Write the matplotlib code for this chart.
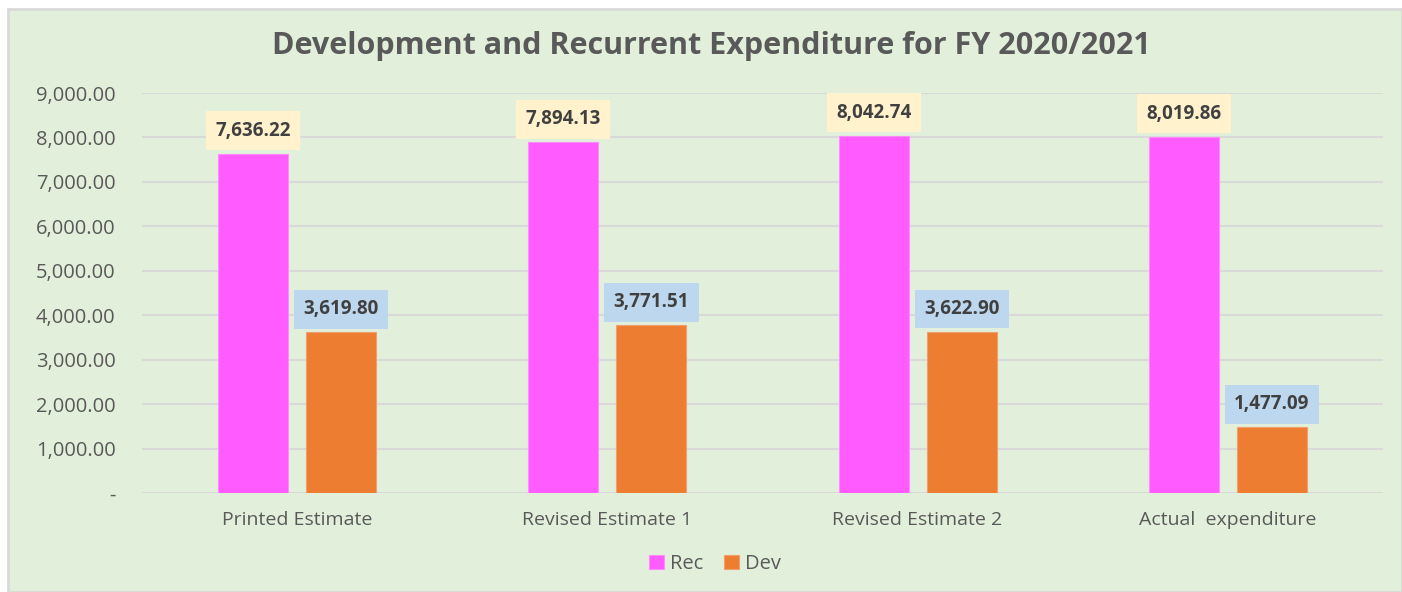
import numpy as np
import matplotlib.pyplot as plt
from matplotlib.patches import Rectangle

categories = ['Printed Estimate', 'Revised Estimate 1', 'Revised Estimate 2', 'Actual  expenditure']
rec = [7636.22, 7894.13, 8042.74, 8019.86]
dev = [3619.80, 3771.51, 3622.90, 1477.09]
yticks = [0, 1000, 2000, 3000, 4000, 5000, 6000, 7000, 8000, 9000]

plt.rcParams['font.family'] = ['Open Sans', 'DejaVu Sans']

bg = '#E2EFDA'
grey = '#595959'
fig = plt.figure(figsize=(14.02, 5.92), dpi=100, facecolor='white')

# chart area panel with thin border
fig.patches.append(Rectangle((8 / 1402, 0), 1 - 8 / 1402, 583 / 592, transform=fig.transFigure,
                             facecolor=bg, edgecolor='#D9D9D9', linewidth=2, zorder=-5))

ax = fig.add_axes([142 / 1402, 99 / 592, 1241 / 1402, 400 / 592])
ax.patch.set_alpha(0)

x = np.arange(len(categories))
w = 0.226
off = 0.142
b1 = ax.bar(x - off, rec, w, color='#FF5BFF', edgecolor='#FF8CFF', linewidth=0.8, label='Rec', zorder=3)
b2 = ax.bar(x + off, dev, w, color='#ED7D31', edgecolor='#F0A070', linewidth=0.8, label='Dev', zorder=3)

for bars, vals, box in [(b1, rec, '#FFF2CC'), (b2, dev, '#BDD7EE')]:
    for bar, v in zip(bars, vals):
        ax.annotate(f'{v:,.2f}', (bar.get_x() + bar.get_width() / 2, v),
                    xytext=(0, 16.5), textcoords='offset points', ha='center', va='center',
                    fontsize=13.5, fontweight='bold', color='#404040',
                    bbox=dict(boxstyle='square,pad=0.5', facecolor=box, edgecolor='none'),
                    zorder=5)

ax.set_xlim(-0.5, len(categories) - 0.5)
ax.set_ylim(0, 9000)
ax.set_yticks(yticks)
ax.set_yticklabels(['-'] + [f'{t:,.2f}' for t in yticks[1:]])
ax.set_xticks(x)
ax.set_xticklabels(categories)
ax.tick_params(axis='y', length=0, pad=19, labelsize=14.5, labelcolor=grey)
ax.tick_params(axis='x', length=0, pad=13, labelsize=14, labelcolor=grey)
ax.grid(axis='y', color='#D9D9D9', linewidth=1.5, zorder=0)
ax.set_axisbelow(True)
for s in ax.spines.values():
    s.set_visible(False)

fig.text(711 / 1402, 1 - 46 / 592, 'Development and Recurrent Expenditure for FY 2020/2021',
         ha='center', va='center', fontsize=22, fontweight='bold', color=grey)

fig.legend(handles=[b1, b2], labels=['Rec', 'Dev'], loc='center', bbox_to_anchor=(715 / 1402, 1 - 564 / 592),
           ncol=2, frameon=False, fontsize=14.5, labelcolor=grey, handlelength=0.75, handleheight=0.75,
           handletextpad=0.3, columnspacing=1.0)

fig.savefig('out.png', dpi=100, facecolor='white')
